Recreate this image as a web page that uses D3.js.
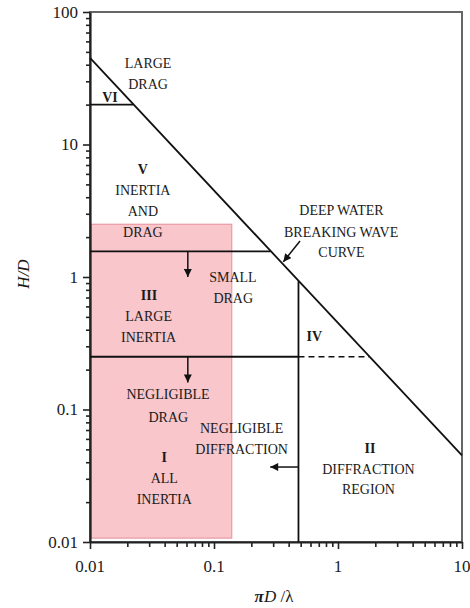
<!DOCTYPE html>
<html>
<head>
<meta charset="utf-8">
<script src="https://cdn.jsdelivr.net/npm/d3@7"></script>
<style>
  html, body { margin: 0; padding: 0; background: #fff; }
  svg { display: block; }
  text { font-family: "Liberation Serif", "Times New Roman", serif; fill: #1a1a1a; }
</style>
</head>
<body>
<svg id="chart" width="470" height="608"></svg>
<script>
// Wave-force regime map: H/D against πD/λ (log–log)
const xDomain = [0.01, 10];
const yDomain = [0.01, 100];
const xTickLabels = [0.01, 0.1, 1, 10];
const yTickLabels = [0.01, 0.1, 1, 10, 100];

// Deep-water breaking wave limit (end points of the straight line on log axes)
const breakingCurveX = [0.01, 10];
const breakingCurveY = [45, 0.045];

// Regime boundaries
const solidSegments = [
  { x: [0.01, 0.0223], y: [20, 20] },     // VI / V
  { x: [0.01, 0.286],  y: [1.56, 1.56] }, // V / III
  { x: [0.01, 0.48],   y: [0.25, 0.25] }, // III / I
  { x: [0.48, 0.48],   y: [0.01, 0.93] }  // diffraction limit
];
const dashedSegments = [
  { x: [0.48, 1.78], y: [0.25, 0.25] }
];

// Shaded test range
const shadeX = [0.0102, 0.139];
const shadeY = [0.0107, 2.5];

// Arrows: [from, to]
const arrows = [
  { x: [0.0615, 0.0615], y: [1.56, 1.0] },
  { x: [0.0615, 0.0615], y: [0.25, 0.16] },
  { x: [0.48, 0.284],    y: [0.0368, 0.0368] },
  { x: [0.494, 0.362],   y: [1.87, 1.30] }
];

// Region annotations
const labelText = [
  "LARGE", "DRAG", "VI",
  "V", "INERTIA", "AND", "DRAG",
  "III", "LARGE", "INERTIA",
  "SMALL", "DRAG",
  "DEEP WATER", "BREAKING WAVE", "CURVE",
  "IV",
  "NEGLIGIBLE", "DRAG",
  "NEGLIGIBLE", "DIFFRACTION",
  "I", "ALL", "INERTIA",
  "II", "DIFFRACTION", "REGION"
];
const labelX = [
  0.0294, 0.0294, 0.0145,
  0.0267, 0.0267, 0.0267, 0.0267,
  0.0299, 0.0297, 0.0297,
  0.142, 0.143,
  1.067, 1.06, 1.067,
  0.644,
  0.0426, 0.0428,
  0.167, 0.167,
  0.0397, 0.0397, 0.0397,
  1.81, 1.76, 1.76
];
const labelY = [
  41.2, 28.6, 22.8,
  6.53, 4.53, 3.15, 2.19,
  0.731, 0.508, 0.354,
  1.0, 0.698,
  3.2, 2.2, 1.54,
  0.359,
  0.131, 0.0883,
  0.0721, 0.0501,
  0.044, 0.0303, 0.0211,
  0.0515, 0.0356, 0.025
];
const labelBold = [
  false, false, true,
  true, false, false, false,
  true, false, false,
  false, false,
  false, false, false,
  true,
  false, false,
  false, false,
  true, false, false,
  true, false, false
];

const svg = d3.select("#chart");
const margin = { left: 90, right: 8, top: 12, bottom: 66 };
const W = 470, H = 608;

const x = d3.scaleLog().domain(xDomain).range([margin.left, W - margin.right]);
const y = d3.scaleLog().domain(yDomain).range([H - margin.bottom, margin.top]);

// Shaded range
svg.append("rect")
  .attr("x", x(shadeX[0]))
  .attr("y", y(shadeY[1]))
  .attr("width", x(shadeX[1]) - x(shadeX[0]))
  .attr("height", y(shadeY[0]) - y(shadeY[1]))
  .attr("fill", "#f8c6cb")
  .attr("stroke", "#e89aa3")
  .attr("stroke-width", 1.2);

// Plot frame
svg.append("rect")
  .attr("x", x.range()[0]).attr("y", y.range()[1])
  .attr("width", x.range()[1] - x.range()[0])
  .attr("height", y.range()[0] - y.range()[1])
  .attr("fill", "none").attr("stroke", "#666").attr("stroke-width", 2);

// Axes
const isMajor = v => Math.abs(Math.log10(v) - Math.round(Math.log10(v))) < 1e-6;
const yAxis = d3.axisLeft(y)
  .tickValues(y.ticks())
  .tickSize(0)
  .tickFormat(() => "");
const yg = svg.append("g").attr("transform", `translate(${x.range()[0]},0)`).call(yAxis);
yg.selectAll(".tick line").attr("x2", d => isMajor(d) ? -7 : -4).attr("stroke", "#222").attr("stroke-width", 1.6);
yg.select(".domain").attr("stroke", "#222").attr("stroke-width", 2.2);
yg.selectAll(".tick text").remove();
yg.selectAll(".lbl").data(yTickLabels).enter().append("text")
  .attr("x", -12).attr("y", d => y(d)).attr("dy", "0.35em")
  .attr("text-anchor", "end").attr("font-size", 17)
  .text(d => String(d));

const xAxis = d3.axisBottom(x)
  .tickValues(x.ticks())
  .tickSize(0)
  .tickFormat(() => "");
const xg = svg.append("g").attr("transform", `translate(0,${y.range()[0]})`).call(xAxis);
xg.selectAll(".tick line").attr("y2", d => isMajor(d) ? 7 : 5).attr("stroke", "#222").attr("stroke-width", 1.6);
xg.select(".domain").attr("stroke", "#222").attr("stroke-width", 2.2);
xg.selectAll(".tick text").remove();
xg.selectAll(".lbl").data(xTickLabels).enter().append("text")
  .attr("x", d => x(d)).attr("y", 24).attr("dy", "0.35em")
  .attr("text-anchor", "middle").attr("font-size", 17)
  .text(d => String(d));

// Axis titles
svg.append("text")
  .attr("transform", `translate(23,274) rotate(-90)`)
  .attr("text-anchor", "middle").attr("dy", "0.35em")
  .attr("font-size", 17).attr("font-style", "italic")
  .text("H/D");

const xt = svg.append("text")
  .attr("x", 274).attr("y", 596).attr("dy", "0.35em")
  .attr("text-anchor", "middle").attr("font-size", 17);
xt.append("tspan").attr("font-style", "italic").attr("font-weight", "bold").text("π");
xt.append("tspan").attr("font-style", "italic").text("D");
xt.append("tspan").text(" /λ");

// Lines
const line = d3.line().x(d => x(d[0])).y(d => y(d[1]));
const pts = s => s.x.map((v, i) => [v, s.y[i]]);

svg.append("path")
  .attr("d", line(breakingCurveX.map((v, i) => [v, breakingCurveY[i]])))
  .attr("fill", "none").attr("stroke", "#111").attr("stroke-width", 1.8);

svg.selectAll(".seg").data(solidSegments).enter().append("path")
  .attr("d", d => line(pts(d)))
  .attr("fill", "none").attr("stroke", "#111").attr("stroke-width", 1.8);

svg.selectAll(".dseg").data(dashedSegments).enter().append("path")
  .attr("d", d => line(pts(d)))
  .attr("fill", "none").attr("stroke", "#111").attr("stroke-width", 1.6)
  .attr("stroke-dasharray", "6,4");

// Arrows
svg.append("defs").append("marker")
  .attr("id", "head").attr("viewBox", "0 0 10 10")
  .attr("refX", 10).attr("refY", 5)
  .attr("markerWidth", 9).attr("markerHeight", 8)
  .attr("markerUnits", "userSpaceOnUse")
  .attr("orient", "auto")
  .append("path").attr("d", "M0,0 L10,5 L0,10 Z").attr("fill", "#111");

svg.selectAll(".arrow").data(arrows).enter().append("path")
  .attr("d", d => line(pts(d)))
  .attr("fill", "none").attr("stroke", "#111").attr("stroke-width", 1.5)
  .attr("marker-end", "url(#head)");

// Region labels
svg.selectAll(".region").data(labelText).enter().append("text")
  .attr("x", (d, i) => x(labelX[i]))
  .attr("y", (d, i) => y(labelY[i]))
  .attr("dy", "0.35em")
  .attr("text-anchor", "middle")
  .attr("font-size", 14)
  .attr("font-weight", (d, i) => labelBold[i] ? "bold" : "normal")
  .text(d => d);
</script>
</body>
</html>
